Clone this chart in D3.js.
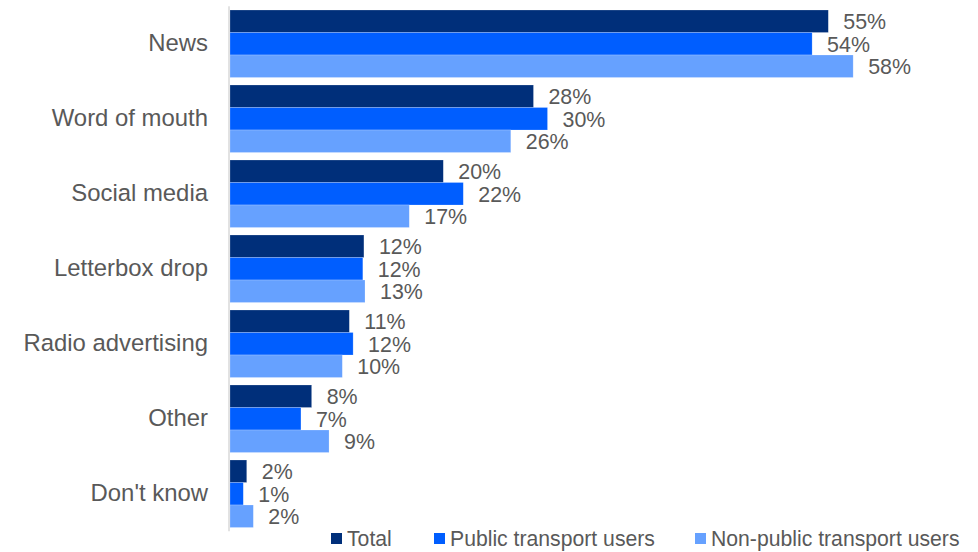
<!DOCTYPE html>
<html>
<head>
<meta charset="utf-8">
<script src="https://cdn.jsdelivr.net/npm/d3@7"></script>
<style>
  body { margin: 0; background: #fff; }
  text { font-family: Arial, "Liberation Sans", sans-serif; }
</style>
</head>
<body>
<script>
// Data
var categories = ['News', 'Word of mouth', 'Social media', 'Letterbox drop', 'Radio advertising', 'Other', "Don't know"]
var seriesNames = ['Total', 'Public transport users', 'Non-public transport users']
var totalValues = [55.4, 28.1, 19.75, 12.4, 11.05, 7.56, 1.55]
var publicValues = [53.9, 29.4, 21.6, 12.3, 11.4, 6.57, 1.23]
var nonPublicValues = [57.7, 26.0, 16.6, 12.5, 10.4, 9.17, 2.16]
var totalLabels = ['55%', '28%', '20%', '12%', '11%', '8%', '2%']
var publicLabels = ['54%', '30%', '22%', '12%', '12%', '7%', '1%']
var nonPublicLabels = ['58%', '26%', '17%', '13%', '10%', '9%', '2%']

var colors = ['#002f7a', '#005eff', '#66a1ff']
var values = [totalValues, publicValues, nonPublicValues]
var labels = [totalLabels, publicLabels, nonPublicLabels]

var w = 978, h = 552
var svg = d3.select('body').append('svg')
    .attr('width', w)
    .attr('height', h)

// Scales
var xScale = d3.scaleLinear().domain([0, 60]).range([230, 878])
var yScale = d3.scaleBand().domain(categories).range([6.25, 531.25]).paddingInner(0.1).paddingOuter(0.05)
var sScale = d3.scaleBand().domain(seriesNames).range([0, yScale.bandwidth()])

var rows = []
categories.forEach(function (c, i) {
  seriesNames.forEach(function (s, j) {
    rows.push({ cat: c, series: s, value: values[j][i], label: labels[j][i], color: colors[j] })
  })
})

// Bars
svg.selectAll('rect.bar')
    .data(rows)
    .enter()
  .append('rect')
    .attr('class', 'bar')
    .attr('x', xScale(0))
    .attr('y', function (d) { return yScale(d.cat) + sScale(d.series) })
    .attr('width', function (d) { return xScale(d.value) - xScale(0) })
    .attr('height', sScale.bandwidth())
    .attr('fill', function (d) { return d.color })
    .attr('stroke', 'rgba(255,255,255,0.35)')
    .attr('stroke-width', 0.6)

// Value labels
svg.selectAll('text.val')
    .data(rows)
    .enter()
  .append('text')
    .attr('class', 'val')
    .attr('x', function (d) { return xScale(d.value) + 15 })
    .attr('y', function (d) { return yScale(d.cat) + sScale(d.series) + sScale.bandwidth() / 2 + 0.5 })
    .attr('dy', '0.35em')
    .attr('fill', '#595959')
    .style('font-size', '21.4px')
    .text(function (d) { return d.label })

// Y axis
var yAxis = d3.axisLeft(yScale).tickSize(0).tickPadding(21)
var gy = svg.append('g')
    .attr('transform', 'translate(229,0)')
    .call(yAxis)
gy.select('.domain').attr('stroke', '#d9d9d9').attr('stroke-width', 1.5)
    .attr('d', 'M0,' + yScale.range()[0] + 'V' + yScale.range()[1])
gy.selectAll('.tick text')
    .attr('fill', '#595959')
    .style('font-size', '23.9px')
    .style('font-family', 'Arial, "Liberation Sans", sans-serif')

// Legend
var legendX = [331, 434, 695]
var legend = svg.selectAll('g.legend')
    .data(seriesNames)
    .enter()
  .append('g')
    .attr('class', 'legend')
    .attr('transform', function (d, i) { return 'translate(' + legendX[i] + ',533)' })
legend.append('rect')
    .attr('width', 11)
    .attr('height', 11)
    .attr('fill', function (d, i) { return colors[i] })
legend.append('text')
    .attr('x', 16)
    .attr('y', 5.5)
    .attr('dy', '0.35em')
    .attr('fill', '#595959')
    .style('font-size', '21.2px')
    .text(function (d) { return d })
</script>
</body>
</html>
